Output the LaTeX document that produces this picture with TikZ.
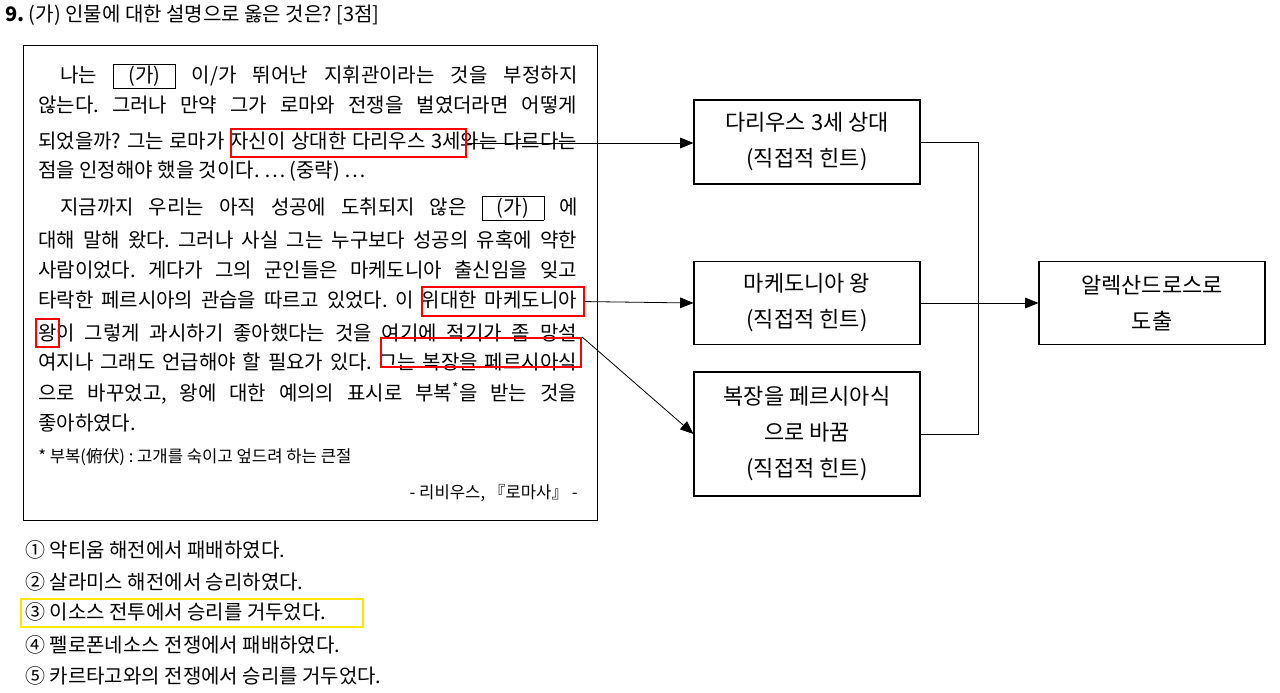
\documentclass[tikz,border=0pt]{standalone}
\usepackage{fontspec}
\setmainfont{Noto Sans CJK KR}
\usetikzlibrary{arrows.meta}
\newcommand{\gabox}{\fbox{\makebox[44pt]{(가)}}}
\frenchspacing
\begin{document}
\begin{tikzpicture}[x=0.75pt,y=-0.75pt,
  ln/.style={anchor=west,inner sep=0pt,font=\fontsize{15}{17}\selectfont},
  opt/.style={anchor=west,inner sep=0pt,font=\fontsize{15}{17}\selectfont},
  hb/.style={draw=red,line width=1.6pt},
  flow/.style={draw,line width=0.8pt,minimum width=169.5pt,align=center,font=\fontsize{16.5}{27}\selectfont},
  arr/.style={-{Triangle[length=10pt,width=8pt]},line width=0.6pt}]
\useasboundingbox (0,0) rectangle (1280,692);
\setlength{\fboxsep}{1pt}
\node[anchor=west,inner sep=0pt,font=\fontsize{15}{18}\selectfont] (q) at (5,15) {\textbf{9.} (가) 인물에 대한 설명으로 옳은 것은? [3점]};
\node[draw,line width=0.8pt,minimum width=430.5pt,minimum height=356pt,anchor=north west] (frame) at (23,45) {};
\node[ln] (l1) at (60,76) {\makebox[388pt][s]{나는 \gabox{} 이/가 뛰어난 지휘관이라는 것을 부정하지}};
\node[ln] (l2) at (38,105) {\makebox[404pt][s]{않는다. 그러나 만약 그가 로마와 전쟁을 벌였더라면 어떻게}};
\node[ln] (l3) at (38,141) {\makebox[404pt][s]{되었을까? 그는 로마가 자신이 상대한 다리우스 3세와는 다르다는}};
\node[ln] (l4) at (38,171) {점을 인정해야 했을 것이다. … (중략) …};
\node[ln] (l5) at (60,208) {\makebox[388pt][s]{지금까지 우리는 아직 성공에 도취되지 않은 \gabox{} 에}};
\node[ln] (l6) at (38,240) {\makebox[404pt][s]{대해 말해 왔다. 그러나 사실 그는 누구보다 성공의 유혹에 약한}};
\node[ln] (l7) at (38,270) {\makebox[404pt][s]{사람이었다. 게다가 그의 군인들은 마케도니아 출신임을 잊고}};
\node[ln] (l8) at (38,300) {\makebox[404pt][s]{타락한 페르시아의 관습을 따르고 있었다. 이 위대한 마케도니아}};
\node[ln] (l9) at (38,333) {\makebox[404pt][s]{왕이 그렇게 과시하기 좋아했다는 것을 여기에 적기가 좀 망설}};
\node[ln] (l10) at (38,362) {\makebox[404pt][s]{여지나 그래도 언급해야 할 필요가 있다. 그는 복장을 페르시아식}};
\node[ln] (l11) at (38,393) {\makebox[404pt][s]{으로 바꾸었고, 왕에 대한 예의의 표시로 부복\textsuperscript{*}을 받는 것을}};
\node[ln] (l12) at (38,423) {좋아하였다.};
\node[ln,font=\fontsize{12.5}{15}\selectfont] (l13) at (38,457) {* 부복(俯伏) : 고개를 숙이고 엎드려 하는 큰절};
\node[ln,anchor=east,font=\fontsize{12.5}{15}\selectfont] (l14) at (578,493) {- 리비우스, 『로마사』 -};
% red highlight boxes
\node[hb,minimum width=176pt,minimum height=21pt,anchor=north west] (h1) at (230,128) {};
\node[hb,minimum width=121.5pt,minimum height=21.75pt,anchor=north west] (h2) at (421,286) {};
\node[hb,minimum width=17pt,minimum height=21pt,anchor=north west] (h3) at (35,318) {};
\node[hb,minimum width=150pt,minimum height=21.75pt,anchor=north west] (h4) at (380,337) {};
% flow boxes
\node[flow,minimum height=63pt] (b1) at (807,142) {다리우스 3세 상대\\(직접적 힌트)};
\node[flow,minimum height=62pt] (b2) at (807,303) {마케도니아 왕\\(직접적 힌트)};
\node[flow,minimum height=93pt] (b3) at (807,434) {복장을 페르시아식\\으로 바꿈\\(직접적 힌트)};
\node[flow,minimum height=62pt] (b4) at (1152,303) {알렉산드로스로\\도출};
\draw[arr] (h1.east |- 0,143) -- (b1.west |- 0,143);
\draw[arr] (h2.east) -- (b2.west);
\draw[arr] (h4.north east) -- (b3.west);
\coordinate (j) at (978,302);
\draw[line width=0.6pt] (b1.east) -| (j);
\draw[line width=0.6pt] (b3.east) -| (j);
\draw[arr] (b2.east) -- (b4.west);
% options
\node[opt] (o1) at (25,550) {① 악티움 해전에서 패배하였다.};
\node[opt] (o2) at (25,582) {② 살라미스 해전에서 승리하였다.};
\node[opt] (o3) at (25,612) {③ 이소스 전투에서 승리를 거두었다.};
\node[draw=yellow!90!orange,line width=1.6pt,minimum width=256.5pt,minimum height=21pt,anchor=north west] (y3) at (20,598) {};
\node[opt] (o4) at (25,645) {④ 펠로폰네소스 전쟁에서 패배하였다.};
\node[opt] (o5) at (25,676) {⑤ 카르타고와의 전쟁에서 승리를 거두었다.};
\end{tikzpicture}
\end{document}
